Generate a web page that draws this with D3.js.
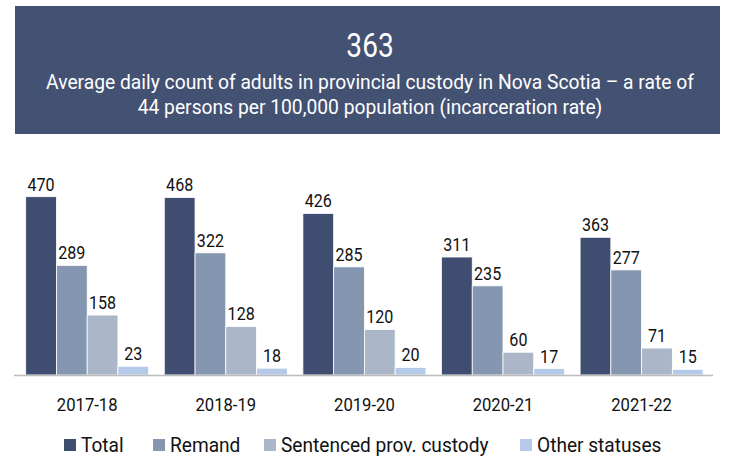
<!DOCTYPE html>
<html><head><meta charset="utf-8">
<script src="https://cdn.jsdelivr.net/npm/d3@7"></script>
<style>body{margin:0;background:#fff;} text{font-family:Roboto,"Noto Sans",sans-serif;}</style>
</head><body>
<svg id="c" width="731" height="471"></svg>
<script>
const years = ["2017-18","2018-19","2019-20","2020-21","2021-22"];
const seriesNames = ["Total","Remand","Sentenced prov. custody","Other statuses"];
const total = [470,468,426,311,363];
const remand = [289,322,285,235,277];
const sentenced = [158,128,120,60,71];
const other = [23,18,20,17,15];
const headline = "363";
const subtitle = ["Average daily count of adults in provincial custody in Nova Scotia \u2013 a rate of","44 persons per 100,000 population (incarceration rate)"];
const colors = ["#3f4e70","#8597b0","#abb6c9","#b5c9e8"];

const values = [total, remand, sentenced, other];
const svg = d3.select("#c");
function txt(parent, x, y, s, size, anchor, fill, sx){
  return parent.append("text").attr("transform",`translate(${x},${y}) scale(${sx||0.85},1)`)
    .attr("text-anchor",anchor||"start").attr("font-size",size).attr("fill",fill||"#111").text(s);
}

// header
svg.append("rect").attr("x",15).attr("y",6).attr("width",705).attr("height",128).attr("fill","#435173");
txt(svg,370,56.7,headline,33,"middle","#fff",0.85);
subtitle.forEach((s,i)=>txt(svg,370,89+i*25,s,20.5,"middle","#fff",0.94));

const baseY = 375;
const x0 = d3.scaleBand().domain(years).range([25.7,703.1]).paddingInner(0.1125).paddingOuter(0);
const x1 = d3.scaleBand().domain(seriesNames).range([0,x0.bandwidth()]);
const y = d3.scaleLinear().domain([0,470]).range([baseY, 196.7]);

const g = svg.append("g");
years.forEach((yr,i)=>{
  const grp = g.append("g").attr("transform",`translate(${x0(yr)},0)`);
  seriesNames.forEach((s,j)=>{
    const v = values[j][i];
    grp.append("rect").attr("x",x1(s)).attr("y",y(v)).attr("width",x1.bandwidth()).attr("height",baseY-y(v))
      .attr("fill",colors[j]).attr("stroke","#ffffff").attr("stroke-width",0.8);
    txt(grp, x1(s)+x1.bandwidth()/2, y(v)-6, v, 18.5, "middle", "#111", 0.87);
  });
});

// axis
const axis = svg.append("g").attr("transform",`translate(0,${baseY})`).call(d3.axisBottom(x0).tickSize(0).tickFormat(""));
axis.select(".domain").attr("d","M14,0.5H713").attr("stroke","#bcbcbc").attr("stroke-width",1.5);
years.forEach(yr=>txt(svg, x0(yr)+x0.bandwidth()/2, 410.7, yr, 18.5, "middle", "#111", 0.9));

// legend
const legX = [64,153,264,520];
const leg = svg.append("g");
seriesNames.forEach((s,j)=>{
  leg.append("rect").attr("x",legX[j]).attr("y",439).attr("width",12).attr("height",12).attr("fill",colors[j]);
  txt(leg, legX[j]+17, 451.5, s, 19.5, "start", "#111", 0.98);
});
</script>
</body></html>
